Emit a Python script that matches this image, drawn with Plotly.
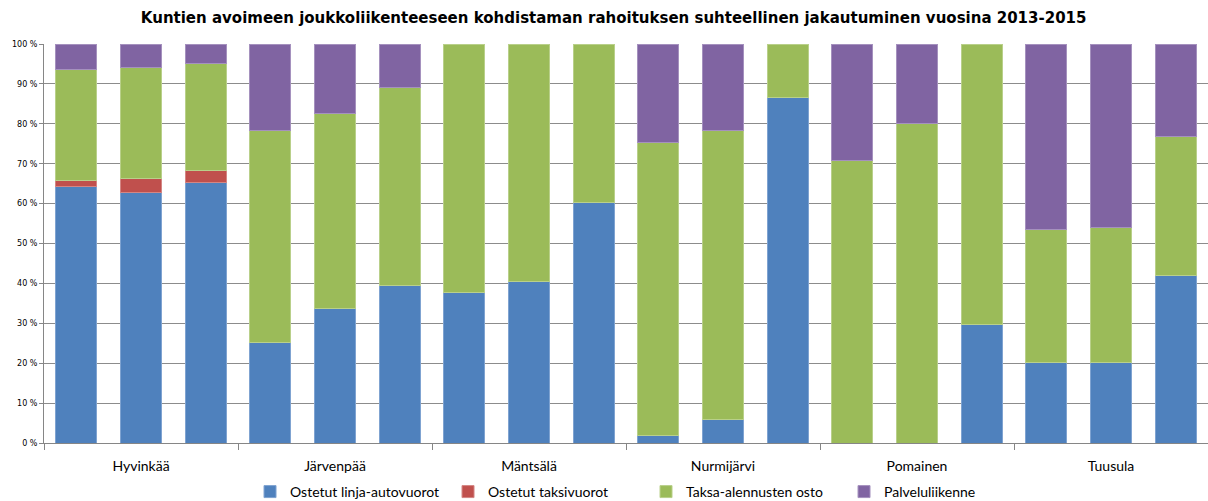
import plotly.graph_objects as go

municipalities = ["Hyvinkää", "Järvenpää", "Mäntsälä", "Nurmijärvi", "Pomainen", "Tuusula"]
years = ["2013", "2014", "2015"]

# Values in percent, order: muni x year (2013, 2014, 2015); None = no share
bus = [64.4, 62.7, 65.2, 25.1, 33.6, 39.6, 37.6, 40.6, 60.4, 1.8, 5.8, 86.5, None, None, 29.8, 20.1, 20.1, 41.9]
taxi = [1.5, 3.7, 3.2, None, None, None, None, None, None, None, None, None, None, None, None, None, None, None]
fare = [27.8, 27.8, 26.8, 53.3, 49.1, 49.4, 62.4, 59.4, 39.6, 73.4, 72.6, 13.5, 70.9, 80.2, 70.2, 33.3, 33.8, 35.0]
service = [6.3, 5.8, 4.8, 21.6, 17.3, 11.0, None, None, None, 24.8, 21.6, None, 29.1, 19.8, None, 46.6, 46.1, 23.1]

series_names = ["Ostetut linja-autovuorot", "Ostetut taksivuorot", "Taksa-alennusten osto", "Palveluliikenne"]
colors = ["#4F81BD", "#C0504D", "#9BBB59", "#8064A2"]
edge_colors = ["#7FA3D1", "#D48684", "#B9D08A", "#A591BE"]

labels = [f"{m} {y}" for m in municipalities for y in years]
xpos = list(range(len(labels)))
n = len(years)
group_centers = [i * n + (n - 1) / 2 for i in range(len(municipalities))]

fig = go.Figure()
for name, vals, c, ec in zip(series_names, [bus, taxi, fare, service], colors, edge_colors):
    fig.add_trace(go.Bar(
        x=xpos, y=vals, name=name, marker_color=c,
        marker_line=dict(color=ec, width=1),
        customdata=labels,
        hovertemplate="%{customdata}: %{y:.1f} %<extra>" + name + "</extra>",
    ))

fig.update_layout(
    barmode="stack",
    bargap=0.37,
    width=1208, height=501,
    margin=dict(l=44, r=0, t=44, b=58, autoexpand=False),
    paper_bgcolor="white", plot_bgcolor="white",
    font=dict(family="Lato, Open Sans, sans-serif", color="#000000"),
    title=dict(
        text="<b>Kuntien avoimeen joukkoliikenteeseen kohdistaman rahoituksen suhteellinen jakautuminen vuosina 2013-2015</b>",
        x=0.508, xanchor="center", xref="container", y=0.964, yanchor="middle", yref="container",
        font=dict(size=15, family="DejaVu Sans, sans-serif", color="#000000"),
    ),
    legend=dict(
        orientation="h", x=0.177, xanchor="left", xref="paper",
        y=0.018, yanchor="middle", yref="container",
        font=dict(size=14), traceorder="normal", itemwidth=30,
        entrywidth=153, entrywidthmode="pixels",
    ),
    showlegend=True,
)

fig.update_xaxes(
    range=[-0.5, len(labels) - 0.5],
    tickmode="array", tickvals=group_centers, ticktext=municipalities,
    ticks="", tickfont=dict(size=14), ticklabelstandoff=10,
    showline=True, linecolor="#868686", linewidth=1,
    showgrid=False, zeroline=False,
    minor=dict(tickmode="linear", tick0=-0.5, dtick=n, ticks="outside",
               ticklen=6, tickcolor="#868686", showgrid=False),
)
fig.update_yaxes(
    range=[0, 100], tickmode="linear", tick0=0, dtick=10,
    ticksuffix=" %", tickfont=dict(size=8, family="DejaVu Sans, sans-serif"),
    ticks="outside", ticklen=4, tickcolor="#868686",
    showline=True, linecolor="#868686", linewidth=1,
    showgrid=True, gridcolor="#8C8C8C", gridwidth=1,
    zeroline=False,
)

fig.write_html(
    "out.html",
    config={"displayModeBar": False},
    post_script="document.body.style.margin='0px';document.body.style.overflow='hidden';",
)
